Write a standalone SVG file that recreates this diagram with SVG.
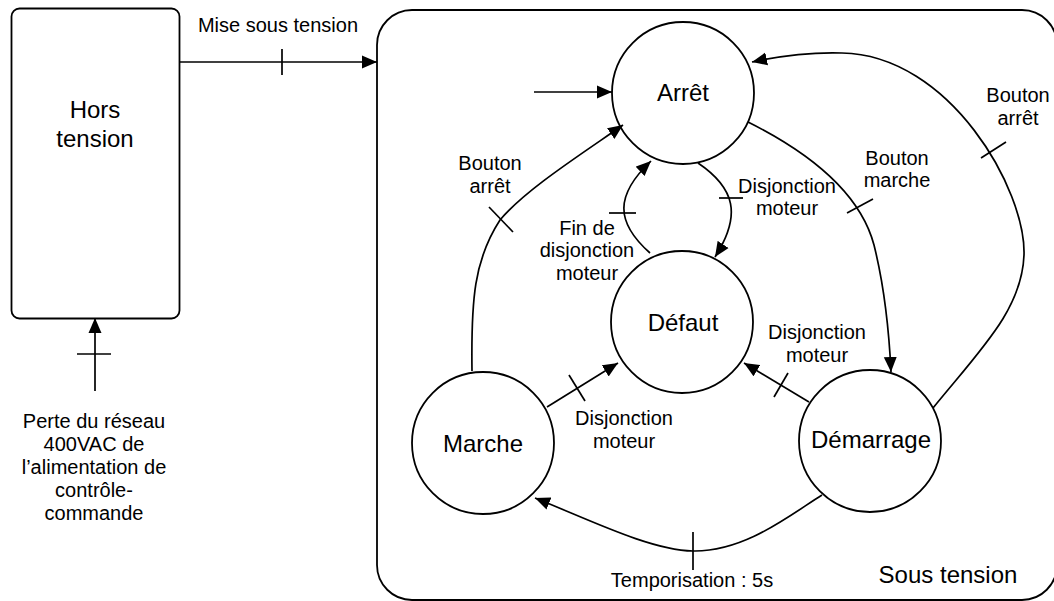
<svg xmlns="http://www.w3.org/2000/svg" width="1054" height="601" viewBox="0 0 1054 601">
<style>
.s{fill:#fff;stroke:#000;stroke-width:1.8}
.c{fill:none;stroke:#000;stroke-width:1.7}
.a{marker-end:url(#ah)}
.t{font-family:"Liberation Sans",Arial,sans-serif;fill:#000;text-anchor:middle}
.big{font-size:24px}
.lab{font-size:20px}
</style>
<defs>
<marker id="ah" markerUnits="userSpaceOnUse" markerWidth="17" markerHeight="14" refX="15" refY="7" orient="auto">
<path d="M0,0.5 L15,7 L0,13.5 z" fill="#000"/>
</marker>
</defs>
<rect width="1054" height="601" fill="#fff"/>
<g id="sous-tension">
<rect class="s" x="377" y="10" width="680" height="590" rx="35"/>
<text class="t big" x="948" y="583">Sous tension</text>
</g>
<g id="hors-tension">
<rect class="s" x="11.5" y="8.5" width="168" height="310" rx="8"/>
<text class="t big" x="95" y="118">Hors</text>
<text class="t big" x="95" y="147">tension</text>
</g>
<g id="arret">
<circle class="s" cx="683" cy="93" r="71"/>
<text class="t big" x="683" y="101">Arrêt</text>
</g>
<g id="defaut">
<circle class="s" cx="682" cy="322" r="71"/>
<text class="t big" x="683" y="331">Défaut</text>
</g>
<g id="marche">
<circle class="s" cx="483" cy="443" r="71"/>
<text class="t big" x="483" y="452">Marche</text>
</g>
<g id="demarrage">
<circle class="s" cx="870" cy="441" r="71"/>
<text class="t big" x="871" y="448">Démarrage</text>
</g>
<g id="connectors">
<line class="c a" x1="179" y1="62" x2="377" y2="62"/>
<line class="c" x1="282" y1="49" x2="282" y2="75"/>
<text class="t lab" x="278" y="32">Mise sous tension</text>
<line class="c a" x1="95" y1="391" x2="95" y2="318"/>
<line class="c" x1="77" y1="354" x2="111" y2="354"/>
<text class="t lab" x="94" y="428">Perte du réseau</text>
<text class="t lab" x="94" y="451">400VAC de</text>
<text class="t lab" x="94" y="474">l’alimentation de</text>
<text class="t lab" x="94" y="497">contrôle-</text>
<text class="t lab" x="94" y="520">commande</text>
<line class="c a" x1="534" y1="92" x2="612" y2="92"/>
<path class="c a" d="M472,371 C471,300 474,260 500,220 C525,190 580,155 623,125"/>
<line class="c" x1="489" y1="207" x2="513" y2="232"/>
<text class="t lab" x="490" y="170">Bouton</text>
<text class="t lab" x="490" y="193">arrêt</text>
<path class="c a" d="M748,122 C820,158 862,200 874,245 C884,285 889,330 891,372"/>
<line class="c" x1="847" y1="213" x2="873" y2="199"/>
<text class="t lab" x="897" y="165">Bouton</text>
<text class="t lab" x="897" y="187">marche</text>
<path class="c a" d="M933,408 C980,350 1022,310 1024,255 C1026,190 950,55 842,53 C810,52 780,56 752,62"/>
<line class="c" x1="981" y1="158" x2="1006" y2="142"/>
<text class="t lab" x="1018" y="102">Bouton</text>
<text class="t lab" x="1018" y="125">arrêt</text>
<path class="c a" d="M698,163 C735,188 742,215 715,257"/>
<line class="c" x1="719" y1="198" x2="743" y2="198"/>
<text class="t lab" x="787" y="193">Disjonction</text>
<text class="t lab" x="787" y="215">moteur</text>
<path class="c a" d="M650,253 C615,222 615,195 651,161"/>
<line class="c" x1="609" y1="213" x2="636" y2="213"/>
<text class="t lab" x="587" y="235">Fin de</text>
<text class="t lab" x="587" y="257">disjonction</text>
<text class="t lab" x="587" y="280">moteur</text>
<line class="c a" x1="547" y1="407" x2="618" y2="363"/>
<line class="c" x1="569" y1="375" x2="585" y2="401"/>
<text class="t lab" x="624" y="425">Disjonction</text>
<text class="t lab" x="624" y="448">moteur</text>
<line class="c a" x1="809" y1="402" x2="744" y2="363"/>
<line class="c" x1="774" y1="397" x2="788" y2="373"/>
<text class="t lab" x="817" y="339">Disjonction</text>
<text class="t lab" x="817" y="362">moteur</text>
<path class="c a" d="M822,495 C790,515 745,552 693,551 C650,550 590,520 535,498"/>
<line class="c" x1="693" y1="532" x2="693" y2="570"/>
<text class="t lab" x="692" y="587">Temporisation : 5s</text>
</g>
</svg>
